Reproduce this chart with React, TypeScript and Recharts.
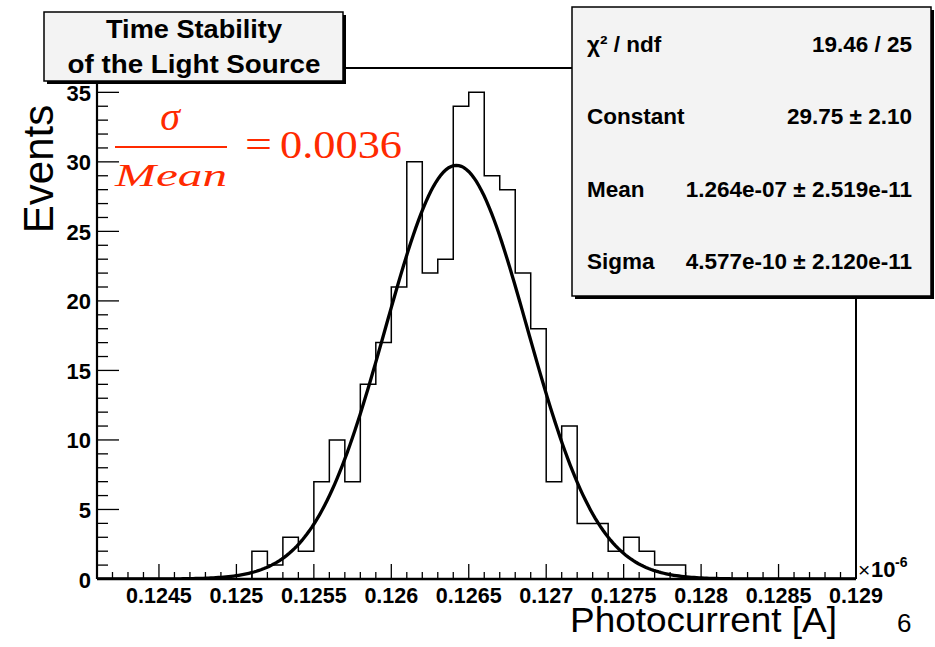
import React from "react";
import { ComposedChart, Line, XAxis, YAxis, ReferenceLine } from "recharts";

// ---- data ----
const binStart = 0.1241;
const binWidth = 0.0001;
const counts = [
  0, 0, 0, 0, 0, 0, 0, 0, 0, 0,
  2, 1, 3, 2, 7, 10, 7, 14, 17, 21,
  30, 22, 23, 34, 35, 29, 28, 22, 18, 7,
  11, 4, 4, 2, 3, 2, 1, 1, 0, 0,
  0, 0, 0, 0, 0, 0, 0, 0, 0,
];
const fitConstant = 29.75;
const fitMean = 0.12642;
const fitSigma = 0.0004577;

const xDomain = [0.1241, 0.129];
const yDomain = [0, 36.75];
const xMajorLabels = ["0.1245", "0.125", "0.1255", "0.126", "0.1265", "0.127", "0.1275", "0.128", "0.1285", "0.129"];
const yMajorLabels = ["0", "5", "10", "15", "20", "25", "30", "35"];

const statsRows = [
  { name: "χ² / ndf", value: "19.46 / 25" },
  { name: "Constant", value: "29.75 ± 2.10" },
  { name: "Mean", value: "1.264e-07 ± 2.519e-11" },
  { name: "Sigma", value: "4.577e-10 ± 2.120e-11" },
];
const titleLines = ["Time Stability", "of the Light Source"];

// ---- tables built from the data ----
const r5 = (v: number) => Number(v.toFixed(6));
const histData = counts.map((c, k) => ({ x: r5(binStart + k * binWidth), y: c }));
histData.push({ x: r5(binStart + counts.length * binWidth), y: counts[counts.length - 1] });

const nCurve = 300;
const curveData = Array.from({ length: nCurve + 1 }, (_, i) => {
  const x = xDomain[0] + ((xDomain[1] - xDomain[0]) * i) / nCurve;
  return { x, y: fitConstant * Math.exp(-0.5 * ((x - fitMean) / fitSigma) ** 2) };
});

const xTicks: number[] = [];
for (let k = 1241; k <= 1290; k++) xTicks.push(k / 10000);
const yTicks: number[] = [];
for (let k = 0; k <= 36; k++) yTicks.push(k);

const SANS = "'Liberation Sans', Arial, Helvetica, sans-serif";
const SERIF = "'Liberation Serif', 'Times New Roman', serif";
const RED = "#ff2a00";

const XTick = (props: any) => {
  const { x, y, payload } = props;
  const k = Math.round(payload.value * 10000);
  const major = k % 5 === 0;
  const label = xMajorLabels.find((l) => Math.round(parseFloat(l) * 10000) === k);
  return (
    <g>
      <line x1={x} y1={y} x2={x} y2={y - (major ? 15 : 7)} stroke="#000" strokeWidth={1.3} />
      {major && label && (
        <text x={x} y={y + 24} textAnchor="middle" fontFamily={SANS} fontWeight="bold" fontSize={21.5} fill="#000">
          {label}
        </text>
      )}
    </g>
  );
};

const YTick = (props: any) => {
  const { x, y, payload } = props;
  const v = payload.value;
  const major = v % 5 === 0;
  const label = yMajorLabels.find((l) => Number(l) === v);
  return (
    <g>
      <line x1={x} y1={y} x2={x + (major ? 22 : 11)} y2={y} stroke="#000" strokeWidth={1.3} />
      {major && label && (
        <text x={x - 6} y={y + 8.5} textAnchor="end" fontFamily={SANS} fontWeight="bold" fontSize={22} fill="#000">
          {label}
        </text>
      )}
    </g>
  );
};

export default function App() {
  return (
    <div style={{ position: "absolute", left: 0, top: 0, width: 935, height: 647, background: "#fff" }}>
      <ComposedChart width={935} height={647} margin={{ top: 68, right: 79, bottom: 0, left: 0 }}>
        <XAxis
          dataKey="x"
          type="number"
          domain={xDomain}
          allowDataOverflow
          ticks={xTicks}
          interval={0}
          height={68}
          tickSize={0}
          tickMargin={0}
          tickLine={false}
          axisLine={{ stroke: "#000", strokeWidth: 2.6 }}
          tick={<XTick />}
        />
        <YAxis
          type="number"
          domain={yDomain}
          allowDataOverflow
          ticks={yTicks}
          interval={0}
          width={97}
          tickSize={0}
          tickMargin={0}
          tickLine={false}
          axisLine={{ stroke: "#000", strokeWidth: 2.2 }}
          tick={<YTick />}
        />
        <ReferenceLine y={yDomain[1]} stroke="#000" strokeWidth={2} ifOverflow="visible" />
        <ReferenceLine x={xDomain[1]} stroke="#000" strokeWidth={2} ifOverflow="visible" />
        <Line
          data={histData}
          dataKey="y"
          type="stepAfter"
          stroke="#000"
          strokeWidth={1.5}
          dot={false}
          activeDot={false}
          isAnimationActive={false}
        />
        <Line
          data={curveData}
          dataKey="y"
          type="linear"
          stroke="#000"
          strokeWidth={3.3}
          dot={false}
          activeDot={false}
          isAnimationActive={false}
        />
      </ComposedChart>
      <svg width={935} height={647} style={{ position: "absolute", left: 0, top: 0, pointerEvents: "none" }}>
        {/* title box */}
        <rect x={47} y={15} width={299} height={69} fill="#000" />
        <rect x={44} y={12} width={299} height={69} fill="#f3f3f3" stroke="#000" strokeWidth={1.5} />
        <text x={194} y={38} textAnchor="middle" fontFamily={SANS} fontWeight="bold" fontSize={25} fill="#000" textLength={176} lengthAdjust="spacingAndGlyphs">
          {titleLines[0]}
        </text>
        <text x={194} y={73} textAnchor="middle" fontFamily={SANS} fontWeight="bold" fontSize={25} fill="#000" textLength={253} lengthAdjust="spacingAndGlyphs">
          {titleLines[1]}
        </text>

        {/* stats box */}
        <rect x={575} y={10} width={359} height={289} fill="#000" />
        <rect x={572} y={7} width={359} height={289} fill="#f3f3f3" stroke="#000" strokeWidth={1.5} />
        {statsRows.map((r, i) => (
          <g key={r.name}>
            <text x={587} y={52 + i * 72.3} fontFamily={SANS} fontWeight="bold" fontSize={22.5} fill="#000">
              {r.name}
            </text>
            <text x={912} y={52 + i * 72.3} textAnchor="end" fontFamily={SANS} fontWeight="bold" fontSize={22.5} fill="#000">
              {r.value}
            </text>
          </g>
        ))}

        {/* formula */}
        <text x={170} y={130} textAnchor="middle" fontFamily={SERIF} fontStyle="italic" fontSize={40} fill={RED}>
          σ
        </text>
        <line x1={115} y1={147} x2={227} y2={147} stroke={RED} strokeWidth={2} />
        <text x={115} y={186} fontFamily={SERIF} fontStyle="italic" fontSize={31} fill={RED} textLength={112} lengthAdjust="spacingAndGlyphs">
          Mean
        </text>
        <text x={245} y={158} fontFamily={SERIF} fontSize={40} fill={RED} textLength={27} lengthAdjust="spacingAndGlyphs">
          =
        </text>
        <text x={280} y={158} fontFamily={SERIF} fontSize={40} fill={RED} textLength={122} lengthAdjust="spacingAndGlyphs">
          0.0036
        </text>

        {/* axis titles */}
        <text transform="translate(53,169) rotate(-90)" textAnchor="middle" fontFamily={SANS} fontSize={42} fill="#000">
          Events
        </text>
        <text x={570} y={632} fontFamily={SANS} fontSize={35} fill="#000" textLength={267} lengthAdjust="spacingAndGlyphs">
          Photocurrent [A]
        </text>
        <text x={897} y={632} fontFamily={SANS} fontSize={26} fill="#000">
          6
        </text>
        <text x={858} y={577} fontFamily={SANS} fontSize={21} fill="#000">
          ×
        </text>
        <text x={871} y={577} fontFamily={SANS} fontWeight="bold" fontSize={22} fill="#000">
          10
        </text>
        <text x={895} y={567} fontFamily={SANS} fontWeight="bold" fontSize={14} fill="#000">
          -6
        </text>
      </svg>
    </div>
  );
}
